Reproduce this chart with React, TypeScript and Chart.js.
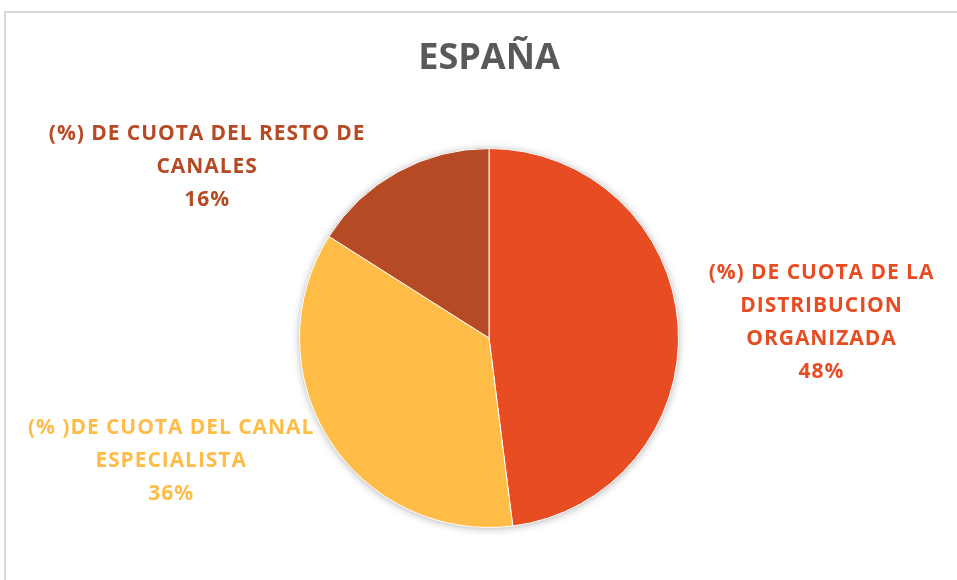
import React, { useEffect, useRef } from "react";
import { Chart, registerables } from "chart.js";

Chart.register(...registerables);

const TITLE = "ESPAÑA";
const CATEGORIES = [
  ["(%) DE CUOTA DE LA", "DISTRIBUCION", "ORGANIZADA"],
  ["(% )DE CUOTA DEL CANAL", "ESPECIALISTA"],
  ["(%) DE CUOTA DEL RESTO DE", "CANALES"],
];
const VALUES = [48, 36, 16];
const COLORS = ["#E84C22", "#FFBC47", "#B64A24"];
// label block centre offsets, in units of the pie radius, relative to pie centre
const LABEL_OFFSETS = [
  [1.752, -0.082],
  [-1.68, 0.647],
  [-1.49, -0.9],
];

const FONT = "'Open Sans', 'Liberation Sans', sans-serif";

const shadowPlugin = {
  id: "pieShadow",
  beforeDatasetsDraw(chart: any) {
    const meta = chart.getDatasetMeta(0);
    const a = meta.data[0];
    if (!a) return;
    const ctx = chart.ctx;
    ctx.save();
    ctx.shadowColor = "rgba(0,0,0,0.35)";
    ctx.shadowBlur = 9;
    ctx.shadowOffsetY = 1;
    ctx.fillStyle = "#ffffff";
    ctx.beginPath();
    ctx.arc(a.x, a.y, a.outerRadius - 0.5, 0, Math.PI * 2);
    ctx.fill();
    ctx.restore();
  },
};

const labelPlugin = {
  id: "outsideLabels",
  afterDatasetsDraw(chart: any) {
    const meta = chart.getDatasetMeta(0);
    const ctx = chart.ctx;
    const total = VALUES.reduce((s, v) => s + v, 0);
    meta.data.forEach((arc: any, i: number) => {
      const r = arc.outerRadius;
      const cx = arc.x + LABEL_OFFSETS[i][0] * r;
      const cy = arc.y + LABEL_OFFSETS[i][1] * r;
      const lines = [...CATEGORIES[i], Math.round((VALUES[i] / total) * 100) + "%"];
      const lh = 33;
      const startY = cy - ((lines.length - 1) * lh) / 2;
      ctx.save();
      ctx.font = `bold 21px ${FONT}`;
      (ctx as any).letterSpacing = "0.95px";
      ctx.fillStyle = COLORS[i];
      ctx.textAlign = "center";
      ctx.textBaseline = "middle";
      lines.forEach((t, k) => ctx.fillText(t, cx + 0.5, startY + k * lh));
      ctx.restore();
    });
  },
};

export default function App() {
  const ref = useRef<HTMLCanvasElement>(null);
  useEffect(() => {
    if (!ref.current) return;
    const chart = new Chart(ref.current, {
      type: "pie",
      data: {
        labels: CATEGORIES.map((c) => c.join(" ")),
        datasets: [
          {
            data: VALUES,
            backgroundColor: COLORS,
            borderColor: "#ffffff",
            borderWidth: 1,
          },
        ],
      },
      options: {
        responsive: false,
        animation: false,
        layout: { padding: { left: 21, right: 0, top: 0, bottom: 52 } },
        plugins: {
          legend: { display: false },
          tooltip: { enabled: false },
          title: {
            display: true,
            text: TITLE,
            color: "#595959",
            font: { family: FONT, size: 36, weight: "bold", lineHeight: 1.2 },
            padding: { top: 37.4, bottom: 67.4 },
          },
        },
      },
      plugins: [shadowPlugin, labelPlugin],
    });
    return () => chart.destroy();
  }, []);
  return (
    <div
      style={{
        position: "fixed",
        left: 0,
        top: 0,
        width: 957,
        height: 580,
        background: "#ffffff",
        overflow: "hidden",
      }}
    >
      <div
        style={{
          position: "absolute",
          left: 4,
          top: 11,
          width: 1000,
          height: 700,
          borderTop: "2px solid #d9d9d9",
          borderLeft: "2px solid #d9d9d9",
        }}
      />
      <canvas
        ref={ref}
        width={957}
        height={580}
        style={{ position: "absolute", left: 0, top: 0, width: 957, height: 580 }}
      />
    </div>
  );
}
